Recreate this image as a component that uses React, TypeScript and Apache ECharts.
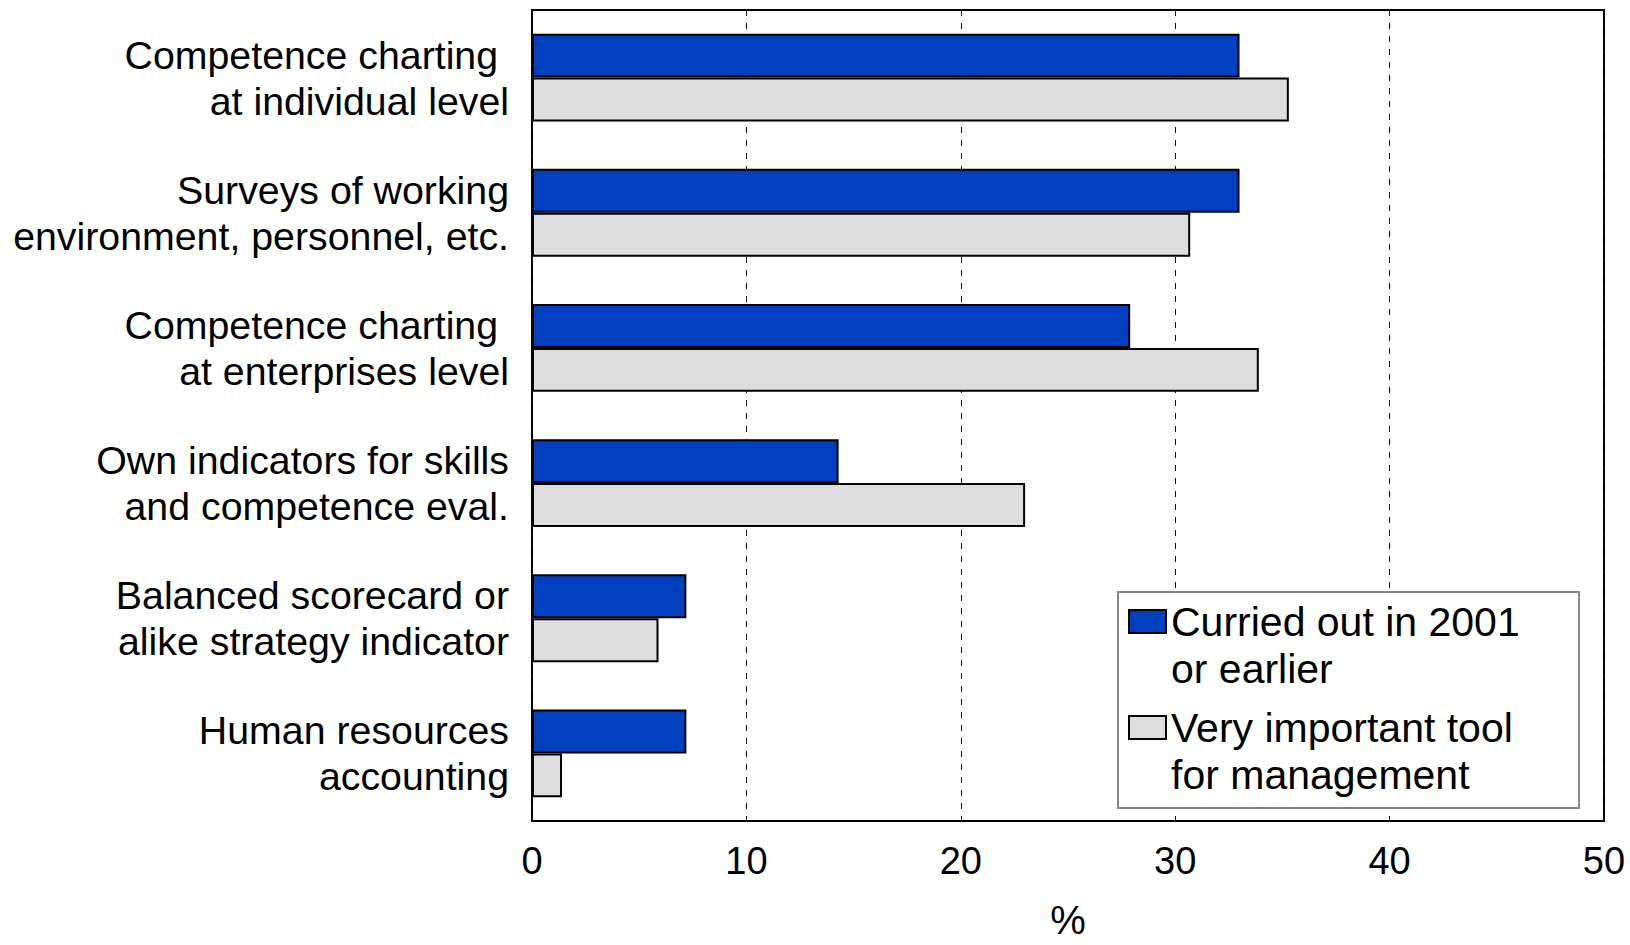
import React, { useEffect, useRef } from "react";
import * as echarts from "echarts";

const categories = [
  "Competence charting \nat individual level",
  "Surveys of working\nenvironment, personnel, etc.",
  "Competence charting \nat enterprises level",
  "Own indicators for skills\nand competence eval.",
  "Balanced scorecard or\nalike strategy indicator",
  "Human resources\naccounting",
];
const seriesNames = ["Curried out in 2001\nor earlier", "Very important tool\nfor management"];
const carriedOut = [33.0, 33.0, 27.9, 14.3, 7.2, 7.2];
const veryImportant = [35.3, 30.7, 33.9, 23.0, 5.9, 1.4];
const xTicks = { min: 0, max: 50, interval: 10 };

const FONT = "'Liberation Sans', Arial, sans-serif";

export default function App() {
  const ref = useRef<HTMLDivElement>(null);
  useEffect(() => {
    if (!ref.current) return;
    const chart = echarts.init(ref.current, null, { renderer: "svg" });
    chart.setOption({
      animation: false,
      backgroundColor: "#fff",
      textStyle: { fontFamily: FONT, color: "#000" },
      grid: {
        left: 532,
        right: 26,
        top: 10,
        bottom: 119,
        show: true,
        borderColor: "#000",
        borderWidth: 2,
        backgroundColor: "transparent",
      },
      xAxis: {
        type: "value",
        min: xTicks.min,
        max: xTicks.max,
        interval: xTicks.interval,
        name: "%",
        nameLocation: "middle",
        nameGap: 79,
        nameTextStyle: { fontSize: 40, color: "#000", fontFamily: FONT },
        axisLine: { show: false },
        axisTick: { show: false },
        axisLabel: { fontSize: 38, color: "#000", margin: 21, fontFamily: FONT },
        splitLine: { show: true, lineStyle: { color: "#111", width: 1, type: [6, 7] } },
      },
      yAxis: {
        type: "category",
        data: categories,
        inverse: true,
        axisLine: { show: false },
        axisTick: { show: false },
        axisLabel: {
          fontSize: 39.3,
          lineHeight: 46,
          color: "#000",
          margin: 23,
          align: "right",
          fontFamily: FONT,
        },
        splitLine: { show: false },
      },
      legend: {
        orient: "vertical",
        left: 1128,
        top: 598,
        padding: 0,
        itemGap: 12,
        itemWidth: 37,
        itemHeight: 70,
        icon: "path://M0,0h37v23h-37z M0,70",
        textStyle: { fontSize: 41, lineHeight: 47, color: "#000", fontFamily: FONT },
        data: seriesNames,
      },
      graphic: [
        {
          type: "rect",
          left: 1117,
          top: 591,
          shape: { width: 461, height: 216 },
          style: { fill: "#fff", stroke: "#888", lineWidth: 2 },
          z: 1,
        },
      ],
      series: [
        {
          name: seriesNames[0],
          type: "bar",
          data: carriedOut,
          barGap: "0%",
          barCategoryGap: "35%",
          itemStyle: { color: "#0040C0", borderColor: "#000", borderWidth: 2 },
          z: 3,
        },
        {
          name: seriesNames[1],
          type: "bar",
          data: veryImportant,
          barGap: "0%",
          barCategoryGap: "35%",
          itemStyle: { color: "#DDDDDD", borderColor: "#000", borderWidth: 2 },
          z: 3,
        },
      ],
    });
    return () => chart.dispose();
  }, []);
  return (
    <div
      ref={ref}
      style={{ position: "fixed", left: 0, top: 0, width: 1630, height: 945 }}
    />
  );
}
